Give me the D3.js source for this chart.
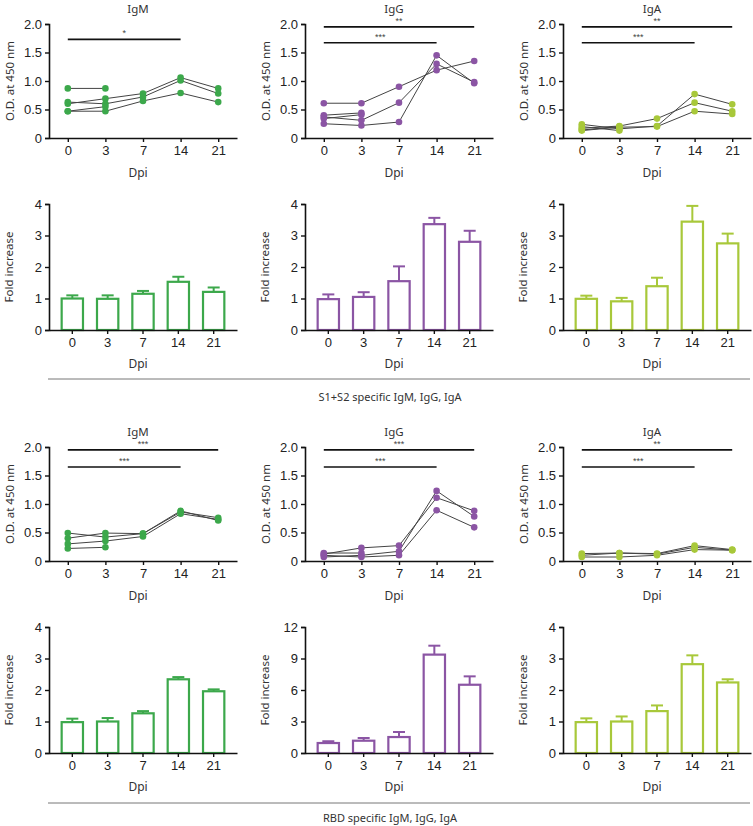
<!DOCTYPE html>
<html><head><meta charset="utf-8">
<script src="https://cdn.jsdelivr.net/npm/d3@7"></script>
<style>body{margin:0;background:#fff}</style>
</head><body>
<script>
const days = ["0","3","7","14","21"];
const isotypes = ["IgM","IgG","IgA"];
const colors = ["#3ca84b","#8b55a4","#a8c83a"];

// S1+S2 specific O.D. per subject (null = no reading)
const s1IgM = [[0.87,0.87,null,null,null],[0.60,0.69,0.78,1.06,0.87],[0.63,0.60,0.72,1.01,0.78],[0.47,0.47,0.65,0.79,0.63],[0.47,0.55,null,null,null]];
const s1IgG = [[0.61,0.61,0.90,1.19,1.35],[0.37,0.31,0.62,1.30,0.98],[0.25,0.22,0.28,1.45,0.96],[0.40,0.44,null,null,null],[0.34,0.41,null,null,null]];
const s1IgA = [[0.24,0.16,0.21,0.77,0.59],[0.17,0.21,0.34,0.62,0.47],[0.13,0.19,0.20,0.47,0.42],[0.20,0.13,null,null,null],[0.14,0.20,null,null,null]];
// RBD specific O.D.
const rbdIgM = [[0.49,0.42,0.48,0.88,0.71],[0.40,0.49,0.48,0.86,0.76],[0.30,0.35,0.43,0.83,0.73],[0.22,0.24,null,null,null]];
const rbdIgG = [[0.12,0.23,0.27,1.11,0.88],[0.07,0.10,0.17,1.23,0.78],[0.10,0.07,0.10,0.89,0.59],[0.14,0.14,null,null,null]];
const rbdIgA = [[0.13,0.14,0.13,0.27,0.20],[0.10,0.14,0.12,0.24,0.19],[0.07,0.07,0.10,0.20,0.19]];

// Fold increase mean and upper error
const s1FoldIgM = [1.00,0.99,1.15,1.53,1.21];  const s1ErrIgM = [1.10,1.10,1.24,1.69,1.35];
const s1FoldIgG = [0.98,1.05,1.55,3.36,2.80];  const s1ErrIgG = [1.13,1.20,2.02,3.56,3.15];
const s1FoldIgA = [0.99,0.91,1.39,3.44,2.75];  const s1ErrIgA = [1.09,1.02,1.66,3.94,3.06];
const rbdFoldIgM = [0.98,1.00,1.26,2.34,1.96]; const rbdErrIgM = [1.09,1.11,1.33,2.41,2.02];
const rbdFoldIgG = [0.95,1.17,1.52,9.37,6.50]; const rbdErrIgG = [1.12,1.43,2.00,10.22,7.30];
const rbdFoldIgA = [0.98,1.00,1.33,2.82,2.24]; const rbdErrIgA = [1.10,1.16,1.51,3.10,2.34];

const odTicks = [0,0.5,1.0,1.5,2.0];
const foldTicks4 = [0,1,2,3,4];
const foldTicks12 = [0,3,6,9,12];

// significance: [from, to, y, label]
const s1Sig = [[["0","14",1.73,"*"]],[["0","21",1.95,"**"],["0","14",1.67,"***"]],[["0","21",1.95,"**"],["0","14",1.67,"***"]]];
const rbdSig = [[["0","21",1.95,"***"],["0","14",1.65,"***"]],[["0","21",1.95,"***"],["0","14",1.65,"***"]],[["0","21",1.95,"**"],["0","14",1.65,"***"]]];

const captions = ["S1+S2 specific IgM, IgG, IgA","RBD specific IgM, IgG, IgA"];

const W = 753, H = 826;
const svg = d3.select("body").append("svg").attr("width",W).attr("height",H);
const TF = "'Liberation Sans', Arial, sans-serif";
const LF = "'Noto Sans', sans-serif";
const axisX = [49,305,563];
const PW = 188;

function styleAxis(g){
  g.select(".domain").attr("stroke","#111").attr("stroke-width",1.6);
  g.selectAll(".tick line").attr("stroke","#111").attr("stroke-width",1.4);
  g.selectAll(".tick text").attr("font-family",TF).attr("font-size",13).attr("fill","#222");
}

function linePanel(x0, yTop, subjects, color, title, sigs){
  const g = svg.append("g");
  const y = d3.scaleLinear().domain([0,2]).range([yTop+114, yTop]);
  const x = d3.scalePoint().domain(days).range([x0, x0+PW]).padding(0.5);
  const ya = g.append("g").attr("transform",`translate(${x0},0)`)
    .call(d3.axisLeft(y).tickValues(odTicks).tickSize(4).tickPadding(3).tickFormat(d=>d===0?"0":d3.format(".1f")(d)));
  styleAxis(ya);
  const xa = g.append("g").attr("transform",`translate(0,${yTop+114})`)
    .call(d3.axisBottom(x).tickSize(4).tickPadding(4).tickSizeOuter(0));
  styleAxis(xa);
  const line = d3.line().defined(d=>d[1]!=null).x(d=>x(d[0])).y(d=>y(d[1]));
  subjects.forEach(s=>{
    g.append("path").datum(s.map((v,i)=>[days[i],v])).attr("d",line)
      .attr("fill","none").attr("stroke","#444").attr("stroke-width",1);
  });
  subjects.forEach(s=>{
    s.forEach((v,i)=>{ if(v!=null) g.append("circle").attr("cx",x(days[i])).attr("cy",y(v)).attr("r",3.3).attr("fill",color); });
  });
  sigs.forEach(([a,b,v,lab])=>{
    g.append("line").attr("x1",x(a)).attr("x2",x(b)).attr("y1",y(v)).attr("y2",y(v)).attr("stroke","#111").attr("stroke-width",1.6);
    g.append("text").attr("x",(x(a)+x(b))/2).attr("y",y(v)-3).attr("text-anchor","middle")
      .attr("font-family",TF).attr("font-size",9).attr("fill","#444").text(lab);
  });
  g.append("text").attr("x",x0+89).attr("y",yTop-11).attr("text-anchor","middle")
    .attr("font-family",LF).attr("font-size",11.5).attr("fill","#333").text(title);
  g.append("text").attr("transform",`translate(${x0-35},${yTop+57}) rotate(-90)`).attr("text-anchor","middle")
    .attr("font-family",LF).attr("font-size",11.5).attr("fill","#333").text("O.D. at 450 nm");
  g.append("text").attr("x",x0+89).attr("y",yTop+153).attr("text-anchor","middle")
    .attr("font-family",LF).attr("font-size",12).attr("fill","#333").text("Dpi");
}

function barPanel(x0, yTop, vals, errs, color, ticks){
  const g = svg.append("g");
  const ymax = ticks[ticks.length-1];
  const y = d3.scaleLinear().domain([0,ymax]).range([yTop+126, yTop]);
  const x = d3.scaleBand().domain(days).range([x0, x0+PW]).paddingInner(0.34).paddingOuter(0.33);
  const bw = x.bandwidth();
  vals.forEach((v,i)=>{
    const cx = x(days[i])+bw/2;
    g.append("line").attr("x1",cx).attr("x2",cx).attr("y1",y(v)).attr("y2",y(errs[i])).attr("stroke",color).attr("stroke-width",2);
    g.append("line").attr("x1",cx-6).attr("x2",cx+6).attr("y1",y(errs[i])).attr("y2",y(errs[i])).attr("stroke",color).attr("stroke-width",2);
    g.append("rect").attr("x",x(days[i])+1).attr("y",y(v)).attr("width",bw-2).attr("height",y(0)-y(v))
      .attr("fill","#fff").attr("stroke",color).attr("stroke-width",2.2);
  });
  const ya = g.append("g").attr("transform",`translate(${x0},0)`)
    .call(d3.axisLeft(y).tickValues(ticks).tickSize(4).tickPadding(3).tickFormat(d3.format("d")));
  styleAxis(ya);
  const xa = g.append("g").attr("transform",`translate(0,${yTop+126})`)
    .call(d3.axisBottom(x).tickSize(4).tickPadding(4).tickSizeOuter(0));
  styleAxis(xa);
  g.append("text").attr("transform",`translate(${x0-36},${yTop+63}) rotate(-90)`).attr("text-anchor","middle")
    .attr("font-family",LF).attr("font-size",11.5).attr("fill","#333").text("Fold increase");
  g.append("text").attr("x",x0+89).attr("y",yTop+164).attr("text-anchor","middle")
    .attr("font-family",LF).attr("font-size",12).attr("fill","#333").text("Dpi");
}

const s1Lines = [s1IgM,s1IgG,s1IgA], rbdLines = [rbdIgM,rbdIgG,rbdIgA];
const s1Folds = [[s1FoldIgM,s1ErrIgM],[s1FoldIgG,s1ErrIgG],[s1FoldIgA,s1ErrIgA]];
const rbdFolds = [[rbdFoldIgM,rbdErrIgM],[rbdFoldIgG,rbdErrIgG],[rbdFoldIgA,rbdErrIgA]];

for(let i=0;i<3;i++){
  linePanel(axisX[i], 24, s1Lines[i], colors[i], isotypes[i], s1Sig[i]);
  barPanel(axisX[i], 204, s1Folds[i][0], s1Folds[i][1], colors[i], foldTicks4);
  linePanel(axisX[i], 447, rbdLines[i], colors[i], isotypes[i], rbdSig[i]);
  barPanel(axisX[i], 627, rbdFolds[i][0], rbdFolds[i][1], colors[i], i===1?foldTicks12:foldTicks4);
}

[[379,401],[803,822]].forEach(([ly,ty],k)=>{
  svg.append("line").attr("x1",48).attr("x2",750).attr("y1",ly).attr("y2",ly).attr("stroke","#777").attr("stroke-width",1);
  svg.append("text").attr("x",390).attr("y",ty).attr("text-anchor","middle")
    .attr("font-family",LF).attr("font-size",11).attr("fill","#333").text(captions[k]);
});
</script>
</body></html>
